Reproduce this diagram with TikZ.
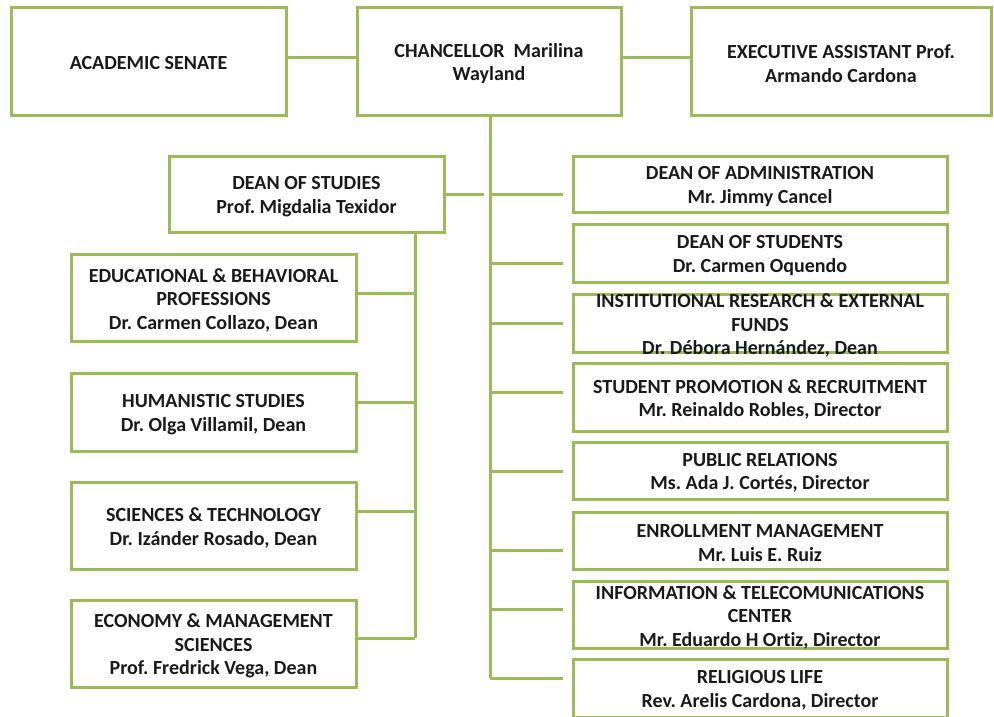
\documentclass[tikz,border=0pt]{standalone}
\usepackage{fontspec}
\setmainfont{Carlito}[Ligatures=NoCommon]
\frenchspacing
\definecolor{olivegr}{HTML}{9BBB59}
\definecolor{ink}{HTML}{1A1A1A}
\newcommand\orgbox[6]{%
  \node[box, minimum width=#4pt, minimum height=#5pt] (#1) at (#2,#3) {};
  \node[txt] (#1-t) at (#1.center) {#6};}
\begin{document}
\begin{tikzpicture}[x=1pt,y=-1pt,
  box/.style={draw=olivegr, line width=3pt, fill=white, inner sep=0pt, outer sep=0pt},
  txt/.style={align=center, inner sep=0pt, yshift=-2.5pt, text=ink, font=\bfseries\fontsize{20}{23.5}\selectfont},
  conn/.style={draw=olivegr, line width=3pt}]
\useasboundingbox (0,0) rectangle (994,716);
\clip (0,0) rectangle (994,716);
% top row
\orgbox{senate}{148.5}{61}{275}{108}{ACADEMIC SENATE}
\orgbox{chanc}{489}{61}{264}{108}{CHANCELLOR\ \ Marilina\\Wayland}
\orgbox{exec}{841}{61}{300}{108}{EXECUTIVE ASSISTANT Prof.\\Armando Cardona}
% dean of studies
\orgbox{dos}{306.5}{194}{275}{76}{DEAN OF STUDIES\\Prof. Migdalia Texidor}
% left column
\orgbox{edu}{213.5}{297.5}{285}{87}{EDUCATIONAL \& BEHAVIORAL\\PROFESSIONS\\Dr. Carmen Collazo, Dean}
\orgbox{hum}{213.5}{412}{285}{78}{HUMANISTIC STUDIES\\Dr. Olga Villamil, Dean}
\orgbox{sci}{213.5}{525.5}{285}{87}{SCIENCES \& TECHNOLOGY\\Dr. Izánder Rosado, Dean}
\orgbox{eco}{213.5}{643.5}{285}{87}{ECONOMY \& MANAGEMENT\\SCIENCES\\Prof. Fredrick Vega, Dean}
% right column
\orgbox{adm}{760}{184}{374}{56}{DEAN OF ADMINISTRATION\\Mr. Jimmy Cancel}
\orgbox{stu}{760}{253}{374}{58}{DEAN OF STUDENTS\\Dr. Carmen Oquendo}
\orgbox{inst}{760}{323}{374}{58}{INSTITUTIONAL RESEARCH \& EXTERNAL\\FUNDS\\Dr. Débora Hernández, Dean}
\orgbox{prom}{760}{397}{374}{68}{STUDENT PROMOTION \& RECRUITMENT\\Mr. Reinaldo Robles, Director}
\orgbox{pr}{760}{470.5}{374}{57}{PUBLIC RELATIONS\\Ms. Ada J. Cortés, Director}
\orgbox{enr}{760}{540.5}{374}{57}{ENROLLMENT MANAGEMENT\\Mr. Luis E. Ruiz}
\orgbox{info}{760}{614.5}{374}{67}{INFORMATION \& TELECOMUNICATIONS\\CENTER\\Mr. Eduardo H Ortiz, Director}
\orgbox{rel}{760}{688}{374}{58}{RELIGIOUS LIFE\\Rev. Arelis Cardona, Director}
% top connectors
\coordinate (ytop) at (0,57);
\draw[conn] (senate.east |- ytop) -- (chanc.west |- ytop);
\draw[conn] (chanc.east |- ytop) -- (exec.west |- ytop);
% right trunk
\coordinate (rbot) at (490,678);
\draw[conn] (chanc.south -| rbot) -- (rbot);
\foreach \n/\yy in {adm/194, stu/263, inst/323, prom/392, pr/471, enr/550, info/609, rel/678}{
  \coordinate (r-\n) at (490,\yy);
  \draw[conn, shorten >=10pt] (r-\n) -- (r-\n -| \n.west);
}
% dean of studies to trunk
\coordinate (r-dos) at (490,194);
\draw[conn, shorten >=6pt] (dos.east |- r-dos) -- (r-dos);
% left trunk
\coordinate (lbot) at (415,638);
\draw[conn] (dos.south -| lbot) -- (lbot);
\foreach \n/\yy in {edu/293, hum/402, sci/511, eco/638}{
  \coordinate (l-\n) at (415,\yy);
  \draw[conn] (l-\n -| \n.east) -- (l-\n);
}
\end{tikzpicture}
\end{document}
